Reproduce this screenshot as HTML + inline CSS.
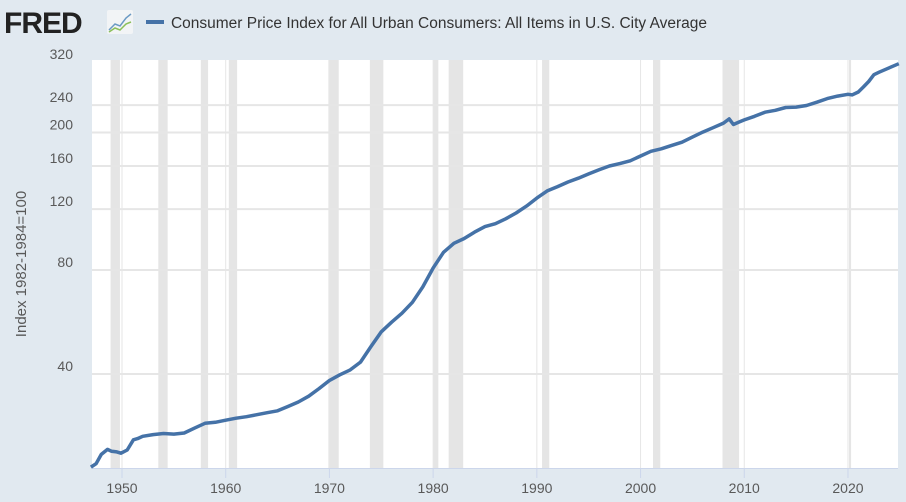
<!DOCTYPE html>
<html><head><meta charset="utf-8">
<style>
html,body{margin:0;padding:0;background:#e1e9f0;width:906px;height:502px;overflow:hidden;font-family:"Liberation Sans",sans-serif}
svg text{font-family:"Liberation Sans",sans-serif}
</style></head>
<body>
<svg id="chart" width="906" height="502">
  <g>
    <text x="4" y="33" font-size="30" font-weight="bold" fill="#222" letter-spacing="-1">FRED</text>
    <rect x="107" y="10" width="26" height="24" fill="#f2f4f6" rx="2"/>
    <polyline points="109,30 115,24 120,26 126,18 131,14" fill="none" stroke="#6b9ac4" stroke-width="1.5"/>
    <polyline points="109,32 115,28 120,30 126,24 131,22" fill="none" stroke="#8bbf5a" stroke-width="1.5"/>
  </g>
  <g>
    <rect x="146" y="20" width="18" height="4" fill="#4572a7"/>
    <text x="171" y="28" font-size="15.5" fill="#333" textLength="536" lengthAdjust="spacingAndGlyphs">Consumer Price Index for All Urban Consumers: All Items in U.S. City Average</text>
  </g>
  <rect x="92" y="60" width="806" height="408" fill="#fff"/>
  <g id="rec"></g>
  <g id="grid"></g>
  <g id="yt"></g>
  <g id="xt"></g>
  <text transform="translate(26,264) rotate(-90)" text-anchor="middle" font-size="15" fill="#595959">Index 1982-1984=100</text>
  <path id="line" fill="none" stroke="#4572a7" stroke-width="3.5" stroke-linejoin="round"/>
</svg>
<script>
const years=[1947,1947.5,1948,1948.6,1949,1949.5,1949.9,1950.5,1951.1,1951.5,1952,1953,1954,1955,1956,1957,1958,1959,1960,1961,1962,1963,1964,1965,1966,1967,1968,1969,1970,1971,1972,1973,1974,1975,1976,1977,1978,1979,1980,1981,1982,1983,1984,1985,1986,1987,1988,1989,1990,1991,1992,1993,1994,1995,1996,1997,1998,1999,2000,2001,2002,2003,2004,2005,2006,2007,2008,2008.55,2008.95,2009.5,2010,2011,2012,2013,2014,2015,2016,2017,2018,2019,2020,2020.4,2021,2021.5,2022,2022.5,2023,2024,2024.9];
const cpi=[21.5,22.0,23.4,24.2,23.9,23.8,23.6,24.1,25.8,26.0,26.4,26.7,26.9,26.8,27.0,27.9,28.8,29.0,29.4,29.8,30.1,30.5,30.9,31.3,32.2,33.2,34.5,36.3,38.3,39.8,41.1,43.3,48.0,53.0,56.5,60.0,64.5,71.5,81.0,90.0,95.6,98.7,103.0,106.8,108.9,112.5,117.0,122.5,129.2,135.5,139.5,143.8,147.5,151.8,156.0,160.0,162.6,165.6,171.0,176.5,179.4,183.5,187.5,194.0,200.5,206.5,213.0,219.0,211.0,214.5,217.6,222.9,229.0,232.0,236.3,237.0,239.5,244.8,250.7,255.0,258.0,257.0,262.0,271.0,281.0,294.0,299.0,308.0,316.5];
const recessions=[[1948.9,1949.8],[1953.5,1954.4],[1957.6,1958.3],[1960.3,1961.1],[1969.9,1970.9],[1973.9,1975.2],[1980.0,1980.5],[1981.5,1982.9],[1990.5,1991.2],[2001.2,2001.9],[2007.9,2009.5],[2020.1,2020.3]];
const yTicks=[40,80,120,160,200,240,320];
const xTicks=[1950,1960,1970,1980,1990,2000,2010,2020];
const x=t=>122+(t-1950)*10.371;
const y=v=>374-104*Math.log2(v/40);
const NS="http://www.w3.org/2000/svg";
function mk(tag,attrs,parent){const e=document.createElementNS(NS,tag);for(const k in attrs)e.setAttribute(k,attrs[k]);document.getElementById(parent).appendChild(e);return e;}
recessions.forEach(r=>{
  const e=mk('rect',{x:x(r[0]),y:60,width:Math.max(x(r[1])-x(r[0]),2),height:408,fill:'#e5e5e5'},'rec');
  
  
});
yTicks.forEach(v=>{
  if(v<320){
    const g=mk('line',{x1:92,x2:898,y1:y(v),y2:y(v),stroke:'#e6e6e6','stroke-width':2},'grid');
    
    
  }
  const t=mk('text',{x:73,y:y(v)-3,'text-anchor':'end','font-size':14,fill:'#595959'},'yt');
  t.textContent=v;
  
  
});
xTicks.forEach(v=>{
  const g=mk('line',{x1:x(v),x2:x(v),y1:60,y2:468,stroke:'#e6e6e6','stroke-width':1},'grid');
  
  
  const tk=mk('line',{x1:x(v),x2:x(v),y1:468,y2:478,stroke:'#ccd6eb','stroke-width':1},'xt');
  
  
  const t=mk('text',{x:x(v),y:493,'text-anchor':'middle','font-size':14,fill:'#595959'},'xt');
  t.textContent=v;
  
  
});
mk('line',{x1:92,x2:898,y1:468.5,y2:468.5,stroke:'#ccd6eb','stroke-width':1},'xt');
document.getElementById('line').setAttribute('d',years.map((t,i)=>(i?'L':'M')+x(t).toFixed(1)+','+y(cpi[i]).toFixed(1)).join(''));
</script>
</body></html>
